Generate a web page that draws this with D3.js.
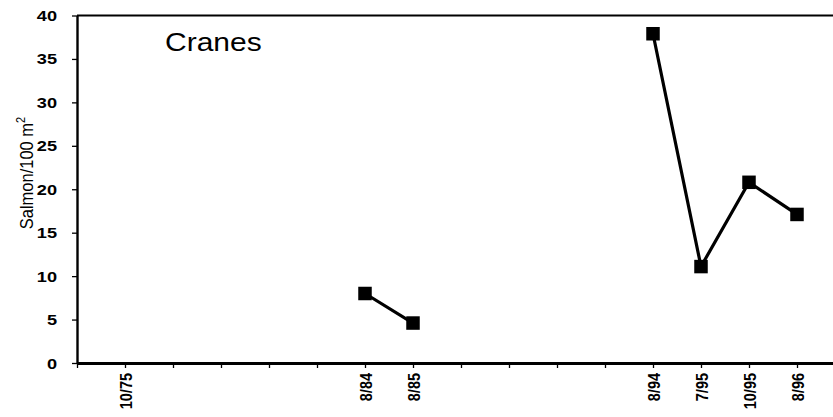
<!DOCTYPE html>
<html>
<head>
<meta charset="utf-8">
<script src="https://cdn.jsdelivr.net/npm/d3@7"></script>
<style>
  html, body { margin: 0; padding: 0; background: #fff; }
  svg { display: block; }
</style>
</head>
<body>
<svg id="chart" width="833" height="417"></svg>
<script>
// Sampling slots along the category axis (slot 0 is the axis origin).
const categories = ["", "10/75", "", "", "", "", "8/84", "8/85", "", "", "", "", "8/94", "7/95", "10/95", "8/96", ""];
// Salmon density per 100 m² for each slot; null where no sample was taken.
const salmon = [null, null, null, null, null, null, 8.0, 4.6, null, null, null, null, 37.9, 11.1, 20.8, 17.1, null];
const yTicks = [0, 5, 10, 15, 20, 25, 30, 35, 40];
const siteName = "Cranes";

const svg = d3.select("#chart");
const plotLeft = 77, plotRight = 845, plotTop = 15.5, plotBottom = 363;

const x = d3.scaleLinear().domain([0, categories.length - 1]).range([plotLeft, plotRight]);
const y = d3.scaleLinear().domain([0, 40]).range([plotBottom, plotTop]);

const font = "'Liberation Sans', Arial, sans-serif";

// Top frame line
svg.append("line")
  .attr("x1", plotLeft).attr("x2", plotRight)
  .attr("y1", plotTop).attr("y2", plotTop)
  .attr("stroke", "#000").attr("stroke-width", 2);

// Y axis
const yStretch = 1.3;
const yAxis = svg.append("g")
  .attr("transform", `translate(${plotLeft},0)`)
  .call(d3.axisLeft(y).tickValues(yTicks).tickSize(5).tickSizeOuter(0).tickPadding(0));
yAxis.select(".domain").attr("stroke-width", 2.4);
yAxis.selectAll(".tick line").attr("stroke-width", 1.3);
yAxis.selectAll(".tick text")
  .attr("font-family", font).attr("font-size", 14).attr("font-weight", "bold")
  .attr("fill", "#000")
  .attr("x", -20 / yStretch)
  .attr("dy", "0.36em")
  .attr("transform", `scale(${yStretch},1)`);

// X axis
const xAxis = svg.append("g")
  .attr("transform", `translate(0,${plotBottom})`)
  .call(d3.axisBottom(x).tickValues(d3.range(categories.length))
    .tickFormat(i => categories[i]).tickSize(5).tickSizeOuter(0));
xAxis.select(".domain").attr("stroke-width", 2.8);
xAxis.selectAll(".tick line").attr("stroke-width", 1.3);
xAxis.selectAll(".tick text")
  .attr("font-family", font).attr("font-size", 14.5).attr("font-weight", "bold")
  .attr("fill", "#000")
  .attr("text-anchor", "end")
  .attr("x", 0).attr("y", 0).attr("dy", "0.36em")
  .attr("transform", "translate(0,10) rotate(-90) scale(1,1.15)");

// Y axis title
const yTitle = svg.append("text")
  .attr("transform", `translate(33,173) rotate(-90) scale(1,1.15)`)
  .attr("text-anchor", "middle")
  .attr("font-family", font).attr("font-size", 16.5)
  .attr("fill", "#000");
yTitle.append("tspan").text("Salmon/100 m");
yTitle.append("tspan").attr("font-size", 11).attr("dy", -7).text("2");

// Site name
svg.append("text")
  .attr("x", 165 / 1.2).attr("y", 51.5)
  .attr("transform", "scale(1.2,1)")
  .attr("font-family", font).attr("font-size", 25)
  .attr("fill", "#000")
  .text(siteName);

// Series line, broken across unsampled slots
const line = d3.line()
  .defined(d => d !== null)
  .x((d, i) => x(i))
  .y(d => y(d));
svg.append("path")
  .datum(salmon)
  .attr("fill", "none")
  .attr("stroke", "#000")
  .attr("stroke-width", 3.2)
  .attr("d", line);

// Square markers
const pts = salmon.map((v, i) => ({ i, v })).filter(d => d.v !== null);
const m = 13.5;
svg.selectAll("rect.marker")
  .data(pts)
  .join("rect")
  .attr("class", "marker")
  .attr("x", d => x(d.i) - m / 2)
  .attr("y", d => y(d.v) - m / 2)
  .attr("width", m).attr("height", m)
  .attr("fill", "#000");
</script>
</body>
</html>
